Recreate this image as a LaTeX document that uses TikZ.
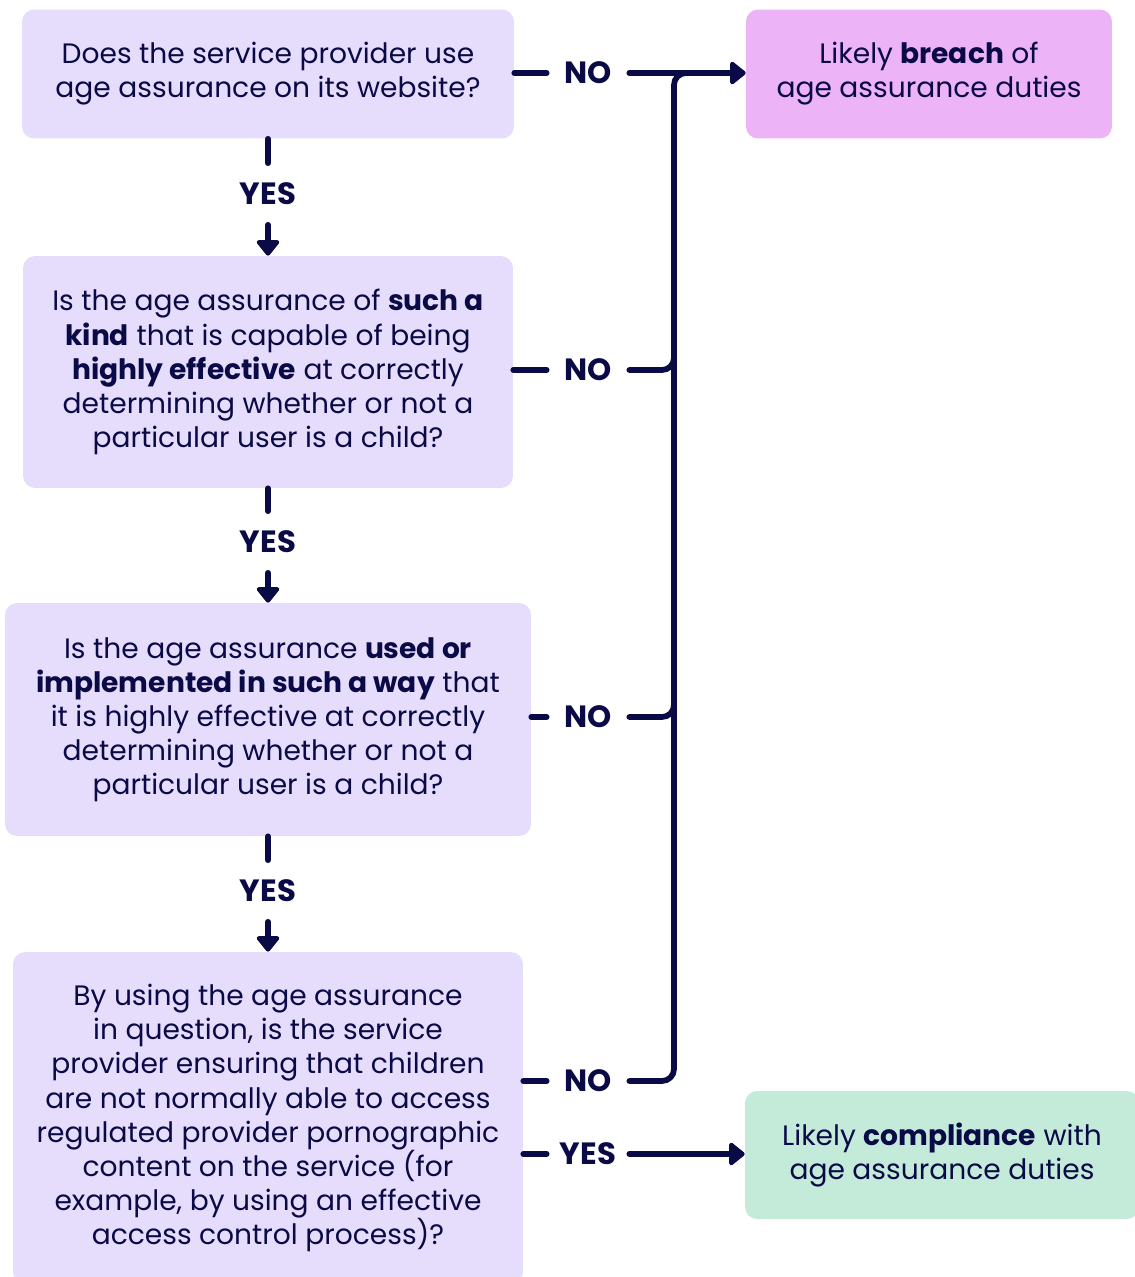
\documentclass[tikz,border=0pt]{standalone}
\usepackage{fontspec}
\setmainfont{Poppins}
\usetikzlibrary{arrows.meta,positioning}
\definecolor{qBox}{RGB}{230,220,252}
\definecolor{brBox}{RGB}{237,179,247}
\definecolor{okBox}{RGB}{196,235,217}
\definecolor{ink}{RGB}{10,10,70}
\newcommand{\TX}{674}
\newcommand{\RC}{0.24cm}
\newcommand{\qfont}{\fontsize{16}{19.4}\selectfont}
\newcommand{\lfont}{\fontsize{17.5}{20}\selectfont\bfseries}

\begin{document}
\begin{tikzpicture}[
    x=0.02cm, y=-0.02cm,
    question/.style={fill=qBox, rounded corners=\RC, align=center, text=ink,
      inner sep=0pt, font=\qfont},
    outcome/.style={question, minimum width=7.32cm, minimum height=2.58cm},
    lab/.style={font=\lfont, text=ink, inner sep=0pt,
      minimum width=1.64cm, minimum height=1.22cm},
    bond/.style={draw=ink, line width=0.115cm, line cap=round, line join=round},
    flow/.style={bond, -{Triangle[round, length=0.34cm, width=0.52cm]}},
  ]
  \useasboundingbox (0,0) rectangle (1134,1277);

  %% ================= the four questions =================
  \node[question, minimum width=9.84cm, minimum height=2.58cm] (q1) at (268,74)
    {Does the service provider use\\age assurance on its website?};
  \node[question, minimum width=9.80cm, minimum height=4.64cm] (q2) at (268,372)
    {Is the age assurance of \textbf{such a}\\\textbf{kind} that is capable of being\\
     \textbf{highly effective} at correctly\\determining whether or not a\\particular user is a child?};
  \node[question, minimum width=10.52cm, minimum height=4.66cm] (q3) at (268,719.5)
    {Is the age assurance \textbf{used or}\\\textbf{implemented in such a way} that\\
     it is highly effective at correctly\\determining whether or not a\\particular user is a child?};
  \node[question, minimum width=10.20cm, minimum height=6.64cm] (q4) at (268,1118)
    {By using the age assurance\\in question, is the service\\provider ensuring that children\\
     are not normally able to access\\regulated provider pornographic\\content on the service (for\\
     example, by using an effective\\access control process)?};

  %% ================= outcomes =================
  \node[outcome, fill=brBox] (breach) at (929,74)
    {Likely \textbf{breach} of\\age assurance duties};
  \node[outcome, fill=okBox, minimum width=7.88cm, minimum height=2.56cm] (comply) at (942,1155)
    {Likely \textbf{compliance} with\\age assurance duties};

  %% ---- YES labels down the middle ----
  \node[lab] (yes1) at (268,194) {YES};
  \node[lab] (yes2) at (268,542) {YES};
  \node[lab] (yes3) at (268,891) {YES};
  \node[lab] (yes4) at (588,1154) {YES};

  %% ---- NO labels on the right ----
  \node[lab] (no1) at (588,73) {NO};
  \node[lab] (no2) at (588,370) {NO};
  \node[lab] (no3) at (588,717) {NO};
  \node[lab] (no4) at (588,1081) {NO};

  \coordinate (join) at (710,73);
  \coordinate (merge2) at (\TX,320);
  \coordinate (merge3) at (\TX,660);

  % yes: straight down
  \draw[bond] (q1.south) -- (yes1.north);
  \draw[flow] (yes1.south) -- (q2.north);
  \draw[bond] (q2.south) -- (yes2.north);
  \draw[flow] (yes2.south) -- (q3.north);
  \draw[bond] (q3.south) -- (yes3.north);
  \draw[flow] (yes3.south) -- (q4.north);
  \draw[bond] (yes4.west -| q4.east) -- (yes4.west);
  \draw[flow] (yes4.east) -- (yes4.east -| comply.west);

  % no: every branch runs into one trunk
  \draw[bond] (no1.west -| q1.east) -- (no1.west);
  \draw[flow] (no1.east) -- (no1.east -| breach.west);
  \draw[bond] (no2.west -| q2.east) -- (no2.west);
  \draw[bond] (no3.west -| q3.east) -- (no3.west);
  \draw[bond] (no4.west -| q4.east) -- (no4.west);
  \draw[bond, rounded corners=\RC] (no4.east) -| (\TX,73) -- (join);
  \draw[bond, rounded corners=\RC] (no2.east) -| (merge2);
  \draw[bond, rounded corners=\RC] (no3.east) -| (merge3);

\end{tikzpicture}
\end{document}
